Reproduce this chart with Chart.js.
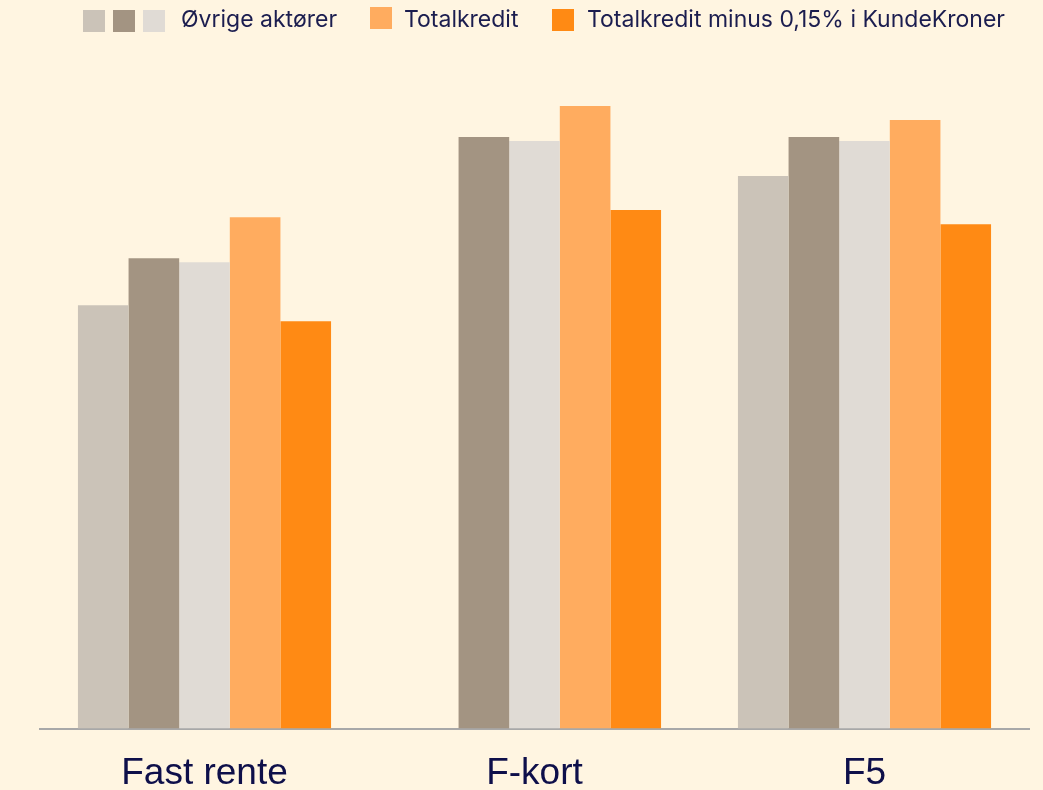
<!DOCTYPE html>
<html>
<head>
<meta charset="utf-8">
<script src="https://cdn.jsdelivr.net/npm/chart.js@4/dist/chart.umd.min.js"></script>
<style>
  html, body { margin: 0; padding: 0; background: #FFF5E1; overflow: hidden; }
  #wrap { position: relative; width: 1043px; height: 790px; overflow: hidden; }
  #legend { position: absolute; left: 0; top: 0; width: 1043px; height: 45px;
    font-family: Inter, "Noto Sans", sans-serif; font-size: 23px; color: #1B1D4F; }
  #legend .box { position: absolute; top: 10px; width: 22px; height: 22px; }
  #legend .txt { position: absolute; top: 5px; white-space: nowrap; }
</style>
</head>
<body>
<div id="wrap">
  <canvas id="chart" width="1043" height="819"></canvas>
  <div id="legend"></div>
</div>
<script>
// data
const kategorier = ["Fast rente", "F-kort", "F5"];
const aktor1 = [4.23, null, 5.52];
const aktor2 = [4.70, 5.91, 5.91];
const aktor3 = [4.66, 5.87, 5.87];
const totalkredit = [5.11, 6.22, 6.08];
const totalkreditMinus = [4.07, 5.18, 5.04];

const farver = ["#CBC3B8", "#A39482", "#E0DBD5", "#FFAC5F", "#FF8A14"];
const legendTekst = ["Øvrige aktører", "Totalkredit", "Totalkredit minus 0,15% i KundeKroner"];

// legend (html)
const legend = document.getElementById("legend");
function addBox(x, color, top) {
  const b = document.createElement("div");
  b.className = "box";
  b.style.left = x + "px";
  b.style.background = color;
  if (top != null) b.style.top = top + "px";
  legend.appendChild(b);
}
function addTxt(x, t) {
  const s = document.createElement("div");
  s.className = "txt";
  s.style.left = x + "px";
  s.textContent = t;
  legend.appendChild(s);
}
addBox(83, farver[0]);
addBox(113, farver[1]);
addBox(143, farver[2]);
addTxt(181, legendTekst[0]);
addBox(370, farver[3], 7);
addTxt(404, legendTekst[1]);
addBox(552, farver[4], 9);
addTxt(587, legendTekst[2]);

function ds(data, c) {
  return { data: data, backgroundColor: c, borderWidth: 0,
    barPercentage: 1.0, categoryPercentage: 0.767 };
}

const chart = new Chart("chart", {
  type: "bar",
  data: {
    labels: kategorier,
    datasets: [
      ds(aktor1, farver[0]),
      ds(aktor2, farver[1]),
      ds(aktor3, farver[2]),
      ds(totalkredit, farver[3]),
      ds(totalkreditMinus, farver[4])
    ]
  },
  options: {
    responsive: false,
    animation: false,
    layout: { padding: { left: 39.5, right: 13.5, top: 78, bottom: 0 } },
    plugins: { legend: { display: false }, tooltip: { enabled: false } },
    scales: {
      x: {
        grid: { display: false, drawTicks: false },
        border: { display: true, color: "#A8A8A8", width: 2 },
        ticks: {
          color: "#0E0F4A",
          padding: 23,
          font: { family: "'Liberation Sans', Arial, sans-serif", size: 37 }
        }
      },
      y: { display: false, min: 0, max: 6.5 }
    }
  }
});
</script>
</body>
</html>
